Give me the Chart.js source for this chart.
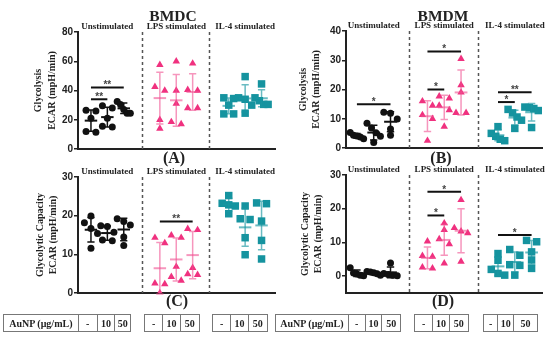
<!DOCTYPE html>
<html>
<head>
<meta charset="utf-8">
<script src="https://cdn.jsdelivr.net/npm/chart.js@4.4.0/dist/chart.umd.min.js"></script>
<style>
body { margin: 0; width: 550px; height: 341px; position: relative; overflow: hidden; background: #fff;
  font-family: "Liberation Serif", "Times New Roman", serif; font-weight: bold; color: #222; }
canvas { position: absolute; left: 0; top: 0; }
.t { position: absolute; transform: translate(-50%, -50%); white-space: nowrap; line-height: 1; }
.box { position: absolute; top: 314px; height: 18px; display: flex; border: 1px solid #777; box-sizing: border-box; }
.box div { display: flex; align-items: center; justify-content: center; font-size: 10px; border-left: 1px solid #777; box-sizing: border-box; }
.box div:first-child { border-left: none; }
</style>
</head>
<body>
<canvas id="cA" width="550" height="341"></canvas>
<canvas id="cB" width="550" height="341"></canvas>
<canvas id="cC" width="550" height="341"></canvas>
<canvas id="cD" width="550" height="341"></canvas>
<div class="t" style="left:173px;top:16px;font-size:15.5px">BMDC</div>
<div class="t" style="left:443px;top:16px;font-size:15.5px">BMDM</div>
<div class="t" style="left:174px;top:158px;font-size:16px">(A)</div>
<div class="t" style="left:441px;top:158px;font-size:16px">(B)</div>
<div class="t" style="left:177px;top:301px;font-size:16px">(C)</div>
<div class="t" style="left:443px;top:301px;font-size:16px">(D)</div>
<div id="tables"></div>
<script>
var stimGroups = ['Unstimulated', 'LPS stimulated', 'IL-4 stimulated'];
var doses = ['-', '10', '50'];
var doseLabel = 'AuNP (μg/mL)';

// 9 columns per panel: (unstim, LPS, IL-4) x (0, 10, 50 ug/mL), 5 replicates each
var glycoBMDC = [
  [26.5, 26, 21, 12, 11.5], [29.5, 28, 21, 15, 15.5], [32.5, 30.5, 27, 24.5, 24.5],
  [57.5, 42.5, 40, 20, 14], [60, 40, 31, 18.5, 17], [58.5, 40.5, 40, 28, 28],
  [35, 34.5, 30, 24, 24], [49.5, 35, 34, 30, 24.5], [44.5, 35, 33, 30.5, 30.5]
];
var glycoBMDM = [
  [5.3, 4.4, 4.1, 3.8, 3.2], [8.5, 6.8, 5.2, 4, 1.9], [12.2, 11.9, 9.9, 6.5, 4.4],
  [16, 14.5, 11.3, 10, 2.5], [17.7, 17, 14.5, 13, 7.3], [30.5, 21.5, 19, 12, 12],
  [7.3, 5, 4, 3, 2.5], [13.2, 12, 10.6, 9.5, 6.7], [14, 13.8, 13.5, 12.8, 7]
];
var capBMDC = [
  [19.9, 18.2, 16.7, 15.4, 11.6], [17.4, 17.2, 15.7, 13.7, 13.5], [19.2, 18.5, 17.6, 14.5, 12.3],
  [14.3, 12.9, 2.5, 2.3, 0], [14.9, 14.3, 6.8, 4.2, 3.2], [16.6, 16.3, 6.5, 4.9, 4.7],
  [25.2, 23.2, 22.8, 22.5, 20.5], [22.5, 19.2, 19, 14.3, 9.9], [23.3, 23.1, 18.6, 13.6, 8.8]
];
var capBMDM = [
  [2.5, 0.9, 0.6, 0.3, 0.1], [1.4, 1.2, 1, 0.7, 0.3], [3.9, 0.8, 0.5, 0.3, 0.1],
  [10.3, 6, 5.8, 2.6, 2.3], [15.7, 13.7, 11, 9.5, 3.8], [22.6, 14.3, 13.3, 12.8, 4.3],
  [6.7, 4.7, 2, 0.8, 0.3], [7.9, 6.2, 3.4, 3.2, 0.3], [10.6, 10.2, 7.2, 4.8, 2.3]
];

// significance bars: [from column, to column, height, stars]
var sigA = [[0, 1, 34, '**'], [0, 2, 42, '**']];
var sigB = [[0, 2, 15, '*'], [3, 4, 20, '*'], [3, 5, 33, '*'], [6, 7, 15.7, '*'], [6, 8, 19.1, '**']];
var sigC = [[3, 5, 18.5, '**']];
var sigD = [[3, 4, 18, '*'], [3, 5, 25, '*'], [6, 8, 12.2, '*']];

var ticksA = [0, 20, 40, 60, 80];
var ticksB = [0, 10, 20, 30, 40];
var ticksC = [0, 10, 20, 30];
var ticksD = [0, 10, 20, 30];

var dotColors = ['#111111', '#f0317f', '#15939f'];
var barColors = ['#111111', 'rgba(240,80,145,0.6)', 'rgba(25,150,162,0.65)'];
var styles = ['circle', 'triangle', 'rect'];
var radii = [3.5, 4.3, 5.3];

function colX(i) { return Math.floor(i / 3) * 4.2 + i % 3; }
function mean(a) { return a.reduce(function (s, v) { return s + v; }, 0) / a.length; }
function sd(a) {
  var m = mean(a);
  return Math.sqrt(a.reduce(function (s, v) { return s + (v - m) * (v - m); }, 0) / (a.length - 1));
}

// simple beeswarm: points closer than ~6px vertically are spread sideways
function swarm(vals, ppu) {
  var order = vals.map(function (v, k) { return k; }).sort(function (a, b) { return vals[b] - vals[a]; });
  var offs = [], cluster = [];
  function flush() {
    var n = cluster.length, gap = n > 1 ? Math.min(0.6, 0.8 / (n - 1)) : 0;
    cluster.forEach(function (k, j) { offs[k] = (j - (n - 1) / 2) * gap; });
    cluster = [];
  }
  order.forEach(function (k) {
    if (cluster.length && (vals[cluster[cluster.length - 1]] - vals[k]) * ppu >= 6) flush();
    cluster.push(k);
  });
  flush();
  return offs;
}

function overlay(vals, sig) {
  return {
    id: 'overlay',
    beforeDatasetsDraw: function (chart) {
      var ctx = chart.ctx, xs = chart.scales.x, a = chart.chartArea;
      ctx.save();
      ctx.setLineDash([3, 3]);
      ctx.lineWidth = 1.5;
      ctx.strokeStyle = '#555';
      [3.1, 7.2].forEach(function (v) {
        var x = Math.round(xs.getPixelForValue(v)) + 0.5;
        ctx.beginPath(); ctx.moveTo(x, a.top); ctx.lineTo(x, a.bottom); ctx.stroke();
      });
      ctx.restore();
    },
    afterDatasetsDraw: function (chart) {
      var ctx = chart.ctx, xs = chart.scales.x, ys = chart.scales.y, a = chart.chartArea;
      ctx.save();
      vals.forEach(function (col, i) {
        var g = Math.floor(i / 3), m = mean(col), s = sd(col), cx = colX(i);
        ctx.strokeStyle = barColors[g];
        ctx.lineWidth = 2;
        ctx.beginPath();
        ctx.moveTo(xs.getPixelForValue(cx - 0.38), ys.getPixelForValue(m));
        ctx.lineTo(xs.getPixelForValue(cx + 0.38), ys.getPixelForValue(m));
        ctx.stroke();
        ctx.lineWidth = 1.5;
        ctx.beginPath();
        ctx.moveTo(xs.getPixelForValue(cx), ys.getPixelForValue(m - s));
        ctx.lineTo(xs.getPixelForValue(cx), ys.getPixelForValue(m + s));
        [m - s, m + s].forEach(function (v) {
          ctx.moveTo(xs.getPixelForValue(cx - 0.22), ys.getPixelForValue(v));
          ctx.lineTo(xs.getPixelForValue(cx + 0.22), ys.getPixelForValue(v));
        });
        ctx.stroke();
      });
      sig.forEach(function (b) {
        var x1 = xs.getPixelForValue(colX(b[0])), x2 = xs.getPixelForValue(colX(b[1]));
        var y = ys.getPixelForValue(b[2]);
        ctx.strokeStyle = '#111';
        ctx.lineWidth = 2;
        ctx.beginPath(); ctx.moveTo(x1, y); ctx.lineTo(x2, y); ctx.stroke();
        ctx.fillStyle = '#444';
        ctx.font = 'bold 10px "Liberation Sans"';
        ctx.textAlign = 'center';
        ctx.textBaseline = 'middle';
        ctx.fillText(b[3], (x1 + x2) / 2, y - 2);
      });
      ctx.fillStyle = '#222';
      ctx.font = 'bold 9px "Liberation Serif"';
      ctx.textAlign = 'center';
      ctx.textBaseline = 'middle';
      stimGroups.forEach(function (name, g) {
        ctx.fillText(name, xs.getPixelForValue(colX(g * 3 + 1)), a.top - 5);
      });
      ctx.restore();
    }
  };
}

function panel(id, vals, sig, o) {
  var ppu = 117 / (o.yMax - o.yMin);
  var sets = [0, 1, 2].map(function (g) {
    var pts = [];
    for (var c = g * 3; c < g * 3 + 3; c++) {
      var off = swarm(vals[c], ppu);
      vals[c].forEach(function (v, k) { pts.push({ x: colX(c) + off[k], y: v }); });
    }
    return {
      data: pts, pointStyle: styles[g], pointRadius: radii[g],
      backgroundColor: dotColors[g], borderColor: dotColors[g], borderWidth: 0, showLine: false
    };
  });
  return new Chart(document.getElementById(id), {
    type: 'scatter',
    data: { datasets: sets },
    options: {
      responsive: false, animation: false, devicePixelRatio: 1,
      layout: { padding: { left: o.area[0] - 58, top: o.area[1], right: 550 - o.area[2], bottom: 341 - o.area[3] } },
      plugins: { legend: { display: false }, tooltip: { enabled: false } },
      scales: {
        x: {
          type: 'linear', min: o.xMin, max: o.xMax,
          afterFit: function (s) { s.height = 0; },
          ticks: { display: false },
          grid: { display: false },
          border: { color: '#222', width: 2 }
        },
        y: {
          min: o.yMin, max: o.yMax,
          afterFit: function (s) { s.width = 58; },
          afterBuildTicks: function (s) { s.ticks = o.ticks.map(function (v) { return { value: v }; }); },
          ticks: { color: '#222', padding: 1, font: { family: 'Liberation Sans', weight: 'bold', size: 10 } },
          grid: { drawOnChartArea: false, tickLength: 4, color: '#222', lineWidth: 1.5 },
          border: { color: '#222', width: 2 },
          title: {
            display: true, text: o.title, color: '#222',
            font: { family: 'Liberation Serif', weight: 'bold', size: 10, lineHeight: 1.35 },
            padding: { top: o.tpad, bottom: 0 }
          }
        }
      }
    },
    plugins: [overlay(vals, sig)]
  });
}

panel('cA', glycoBMDC, sigA, { area: [78, 32, 275, 149], yMin: 0, yMax: 80, ticks: ticksA,
  xMin: -0.79, xMax: 11.22, title: ['Glycolysis', 'ECAR (mpH/min)'], tpad: 11.75 });
panel('cB', glycoBMDM, sigB, { area: [346, 31, 542, 148], yMin: 0, yMax: 40, ticks: ticksB,
  xMin: -0.65, xMax: 11.02, title: ['Glycolysis', 'ECAR (mpH/min)'], tpad: 8.25 });
panel('cC', capBMDC, sigC, { area: [78, 177, 275, 293], yMin: 0, yMax: 30, ticks: ticksC,
  xMin: -0.79, xMax: 11.22, title: ['Glycolytic Capacity', 'ECAR (mpH/min)'], tpad: 13.25 });
panel('cD', capBMDM, sigD, { area: [346, 175, 542, 293], yMin: -5, yMax: 30, ticks: ticksD,
  xMin: -0.65, xMax: 11.02, title: ['Glycolytic Capacity', 'ECAR (mpH/min)'], tpad: 10.25 });

// AuNP dose tables under the panels
var boxes = [[3, 78, 97, 115, 131], [144, 162, 180, 200], [212, 230, 248, 268],
  [275, 348, 365, 382, 401], [414, 432, 449, 469], [483, 497, 513, 538]];
var html = '';
boxes.forEach(function (b) {
  var labels = b.length === 5 ? [doseLabel].concat(doses) : doses;
  html += '<div class="box" style="left:' + b[0] + 'px;width:' + (b[b.length - 1] - b[0]) + 'px">';
  labels.forEach(function (t, k) { html += '<div style="width:' + (b[k + 1] - b[k]) + 'px">' + t + '</div>'; });
  html += '</div>';
});
document.getElementById('tables').innerHTML = html;
</script>
</body>
</html>
